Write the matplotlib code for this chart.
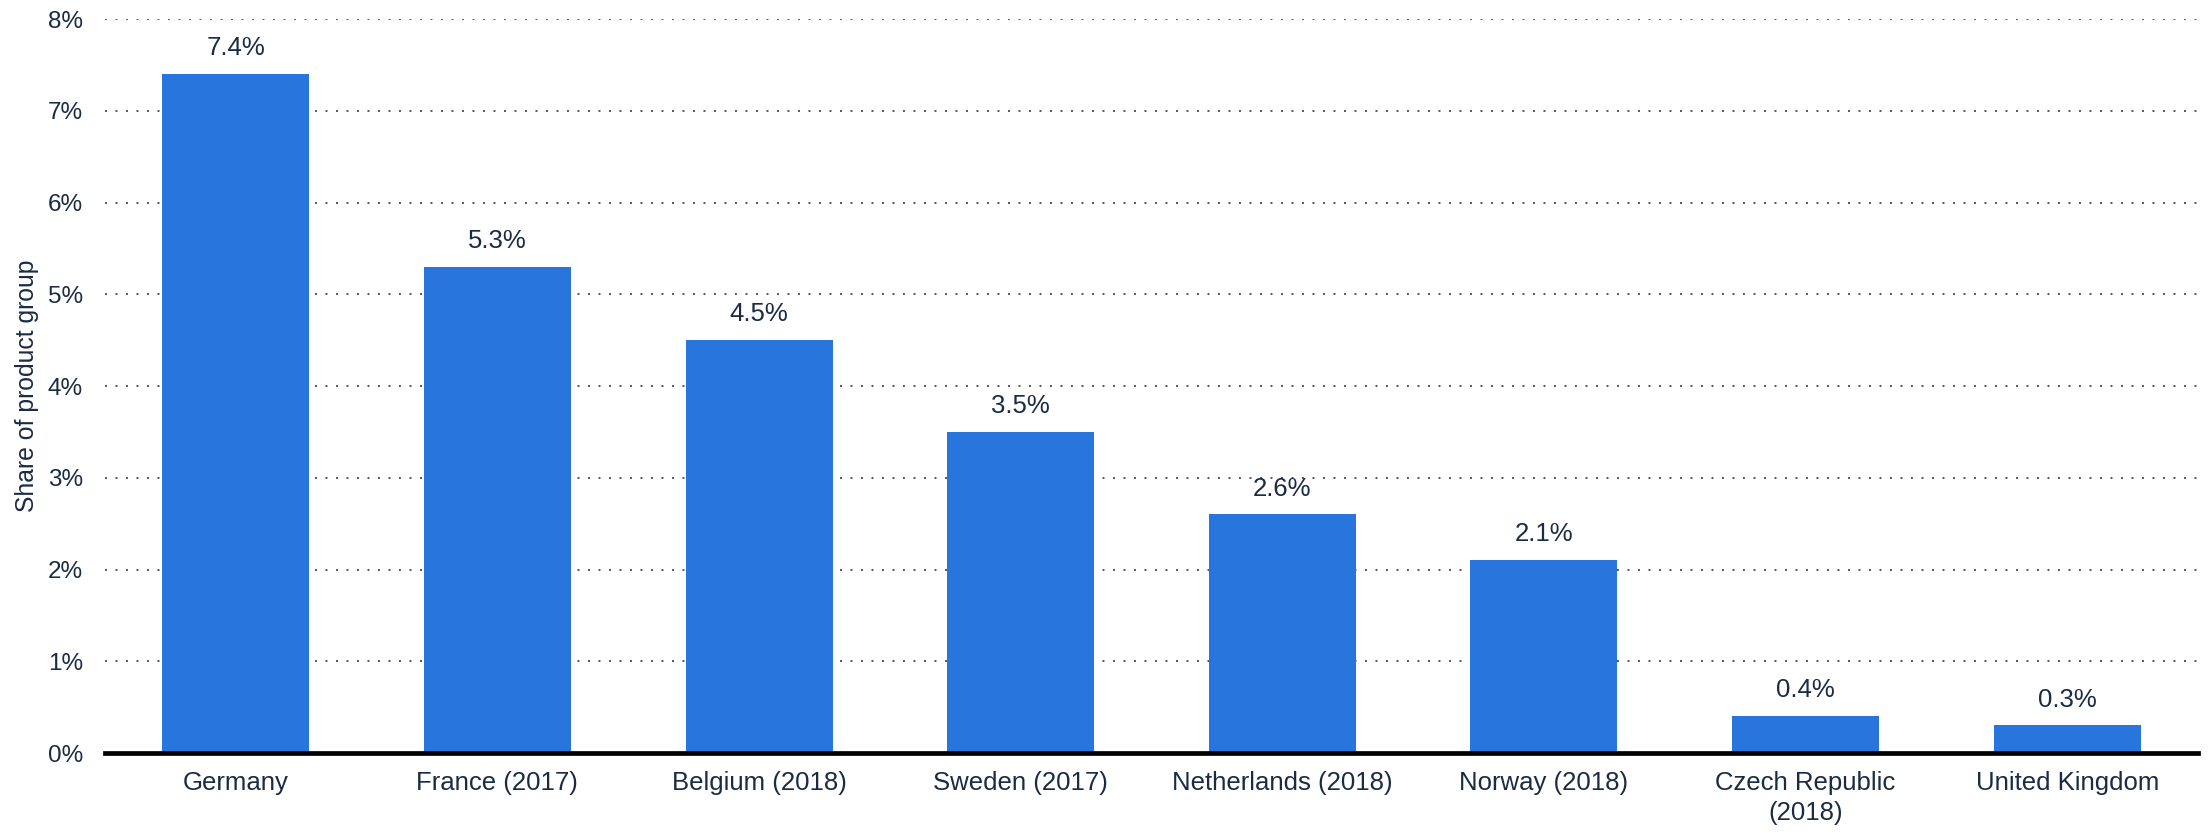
import matplotlib.pyplot as plt
from matplotlib.ticker import FuncFormatter

# ---- DATA ----
countries = ["Germany", "France (2017)", "Belgium (2018)", "Sweden (2017)",
             "Netherlands (2018)", "Norway (2018)", "Czech Republic\n(2018)",
             "United Kingdom"]
share = [7.4, 5.3, 4.5, 3.5, 2.6, 2.1, 0.4, 0.3]

plt.rcParams["font.family"] = ["Liberation Sans", "DejaVu Sans"]
text_col = "#1b2b44"
bar_col = "#2876dd"

# ---- PLOT ----
fig = plt.figure(figsize=(22.12, 8.33), dpi=100)
ax = fig.add_axes([105 / 2212, 1 - 753 / 833, (2198 - 105) / 2212, (753 - 19) / 833])

x = range(len(countries))
bars = ax.bar(x, share, width=0.562, color=bar_col, zorder=3)

for xi, v in zip(x, share):
    ax.annotate(f"{v:.1f}%", (xi, v), xytext=(0, 10), textcoords="offset points",
                ha="center", va="bottom", fontsize=18.5, color=text_col)

ax.set_xlim(-0.5, len(countries) - 0.5)
ax.set_ylim(0, 8)
ax.set_yticks(range(0, 9))
ax.yaxis.set_major_formatter(FuncFormatter(lambda v, p: f"{v:.0f}%"))
ax.set_xticks(list(x))
ax.set_xticklabels(countries, linespacing=1.3)

ax.tick_params(axis="both", length=0, labelcolor=text_col)
ax.tick_params(axis="y", pad=16, labelsize=17.5)
ax.tick_params(axis="x", pad=13, labelsize=18.5)

ax.grid(axis="y", color="#555555", linewidth=1.4, linestyle=(0, (1, 4.4)), zorder=0)
ax.set_axisbelow(True)

for s in ["top", "right", "left"]:
    ax.spines[s].set_visible(False)
ax.spines["bottom"].set_linewidth(3.4)
ax.spines["bottom"].set_color("black")
ax.spines["bottom"].set_zorder(4)

ax.set_ylabel("Share of product group", fontsize=17.8, color=text_col, labelpad=6)

fig.savefig("out.png", dpi=100)
